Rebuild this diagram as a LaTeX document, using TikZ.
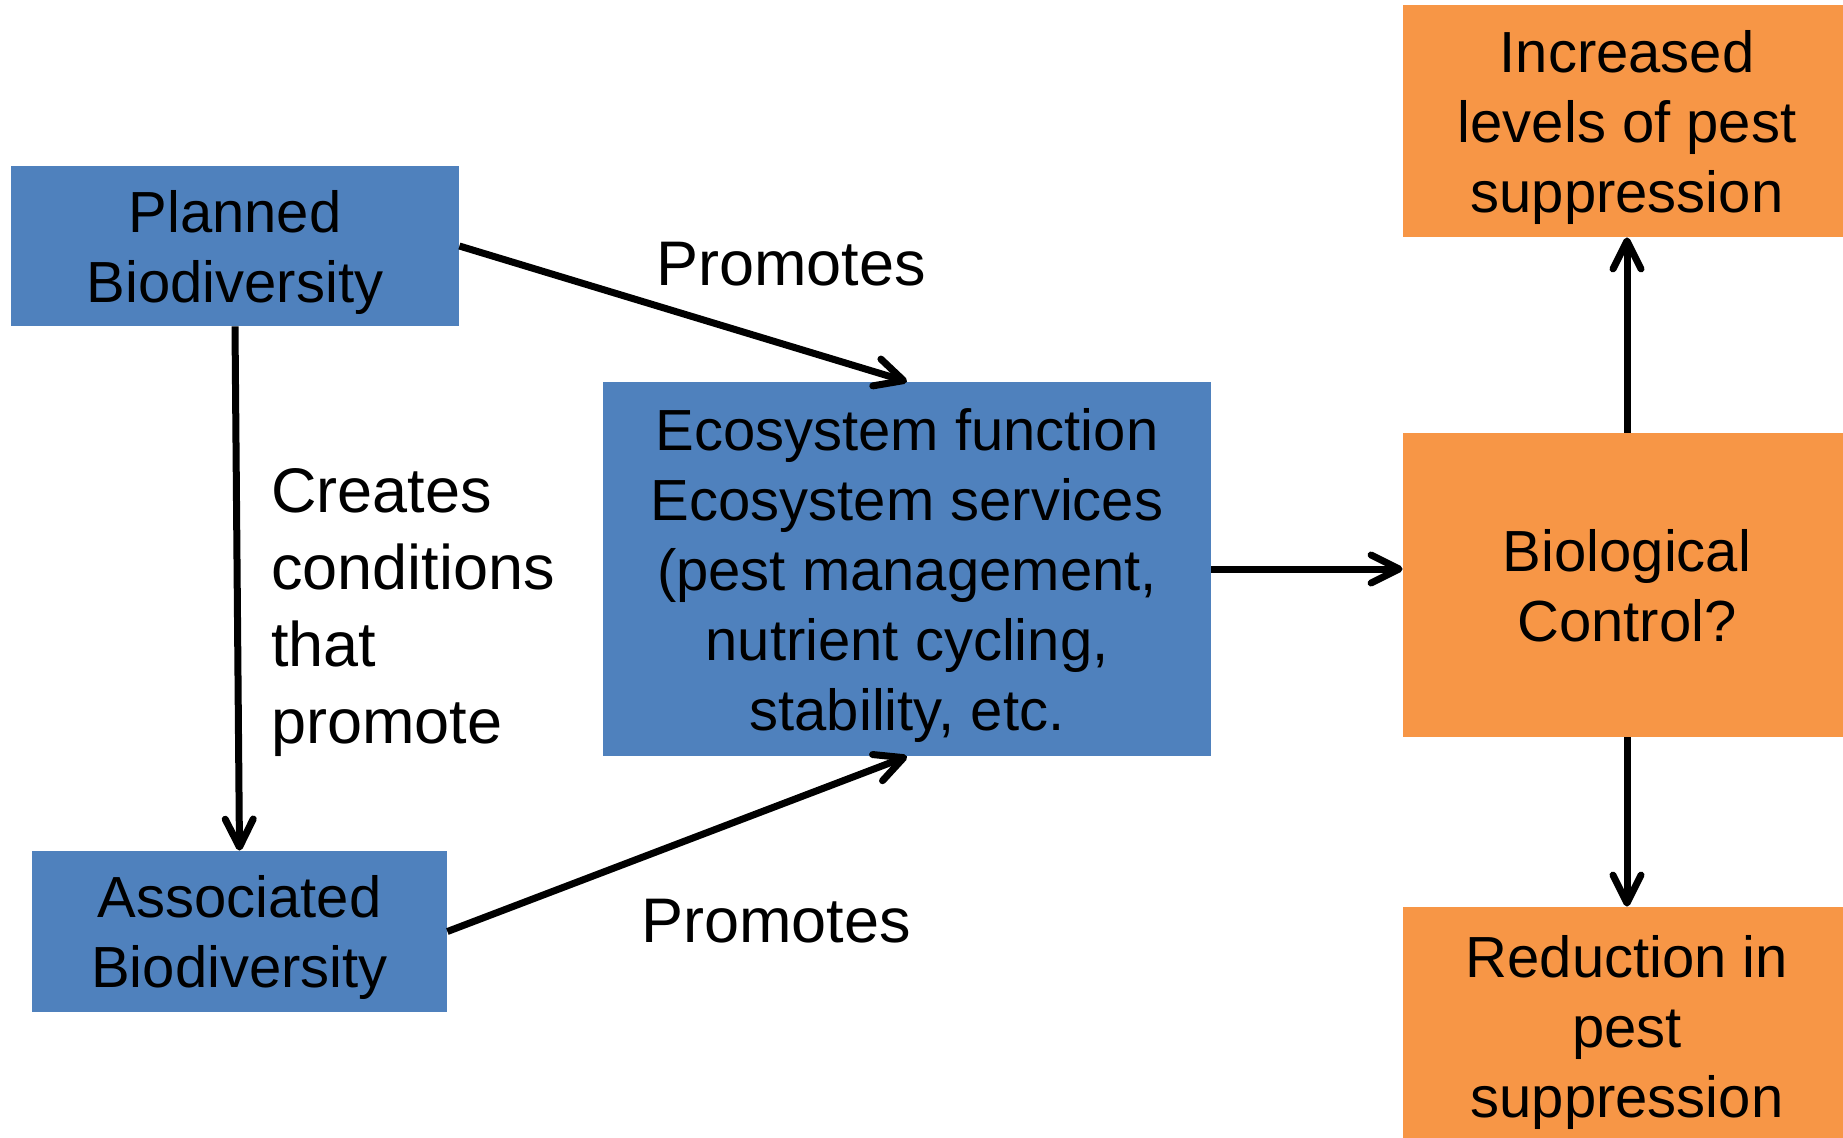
\documentclass[tikz,border=0pt]{standalone}
\usepackage{fontspec}
\setmainfont{Liberation Sans}
\usetikzlibrary{arrows.meta}
\definecolor{boxblue}{HTML}{4F81BD}
\definecolor{boxorange}{HTML}{F79646}
\begin{document}
\begin{tikzpicture}[x=0.5pt,y=-0.5pt,
  box/.style={inner sep=0pt, align=center, text depth=0pt, font=\fontsize{29}{35}\selectfont},
  bluebox/.style={box, fill=boxblue},
  orangebox/.style={box, fill=boxorange},
  lbl/.style={inner sep=0pt, font=\fontsize{31.5}{38.5}\selectfont},
  arr/.style={line width=3.5pt, -{Straight Barb[length=14pt,width=14pt,round]}}]
\path[use as bounding box] (0,0) rectangle (1843,1137);
\clip (0,0) rectangle (1843,1137);

\node[bluebox, minimum width=224pt, minimum height=80pt] (planned) at (235,246) {Planned\\Biodiversity};
\node[bluebox, minimum width=207.5pt, minimum height=80.5pt] (assoc) at (239.5,931.5) {Associated\\Biodiversity};
\node[bluebox, minimum width=304pt, minimum height=187pt] (eco) at (907,569) {Ecosystem function\\Ecosystem services\\(pest management,\\nutrient cycling,\\stability, etc.};
\node[orangebox, minimum width=224pt, minimum height=116pt] (inc) at (1627,121) {Increased\\levels of pest\\suppression};
\node[orangebox, minimum width=224pt, minimum height=152pt] (bio) at (1627,585) {Biological\\Control?};
\node[orangebox, minimum width=224pt, minimum height=119pt] (red) at (1627,1026) {Reduction in\\pest\\suppression};

\node[lbl] (p1) at (791,264) {Promotes};
\node[lbl] (p2) at (776,921) {Promotes};
\node[lbl, anchor=west, align=left] (cc) at (271,613) {Creates\\conditions\\that\\promote};

\draw[arr] (planned.east) -- (eco.north);
\draw[arr] (assoc.east) -- (eco.south);
\draw[arr] (planned.south) -- (assoc.north);
\draw[arr] (eco.east) -- (eco.east -| bio.west);
\draw[arr] (bio.north) -- (inc.south);
\draw[arr] (bio.south) -- (red.north);
\end{tikzpicture}
\end{document}
